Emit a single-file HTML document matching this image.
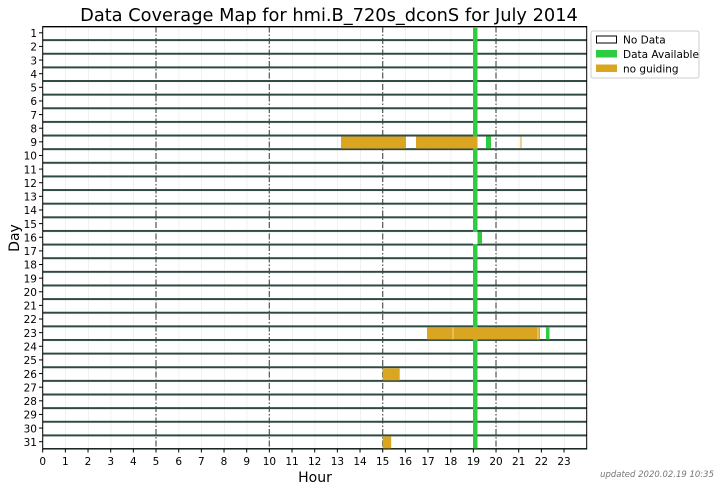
<!DOCTYPE html>
<html><head><meta charset="utf-8"><style>
body{margin:0;background:#fff;}
svg{display:block;font-family:"DejaVu Sans","Liberation Sans",sans-serif;}
</style></head><body>
<svg width="721" height="490" viewBox="0 0 721 490" xmlns="http://www.w3.org/2000/svg">
<defs>
<pattern id="vg" patternUnits="userSpaceOnUse" x="42.7" y="0" width="22.667" height="490">
<line x1="0" y1="0" x2="0" y2="490" stroke="#e2e2e2" stroke-width="1"/>
</pattern>
<pattern id="hg" patternUnits="userSpaceOnUse" x="0" y="25.5" width="721" height="13.63">
<rect x="0" y="0" width="721" height="2" fill="#2f4a44"/>
</pattern>
<pattern id="yt" patternUnits="userSpaceOnUse" x="0" y="32.3" width="10" height="13.63">
<rect x="0" y="0" width="10" height="1" fill="#000"/>
</pattern>
<pattern id="xt" patternUnits="userSpaceOnUse" x="42.2" y="0" width="22.667" height="10">
<rect x="0" y="0" width="1" height="10" fill="#000"/>
</pattern>
</defs>
<text x="329" y="21" font-size="17.8" text-anchor="middle" fill="#000">Data Coverage Map for hmi.B_720s_dconS for July 2014</text>
<rect x="42.7" y="26.5" width="544" height="422.5" fill="url(#vg)"/>
<g stroke="#555" stroke-width="1.2" stroke-dasharray="6,2,1.5,2">
<line x1="156" y1="26.5" x2="156" y2="449"/>
<line x1="269.3" y1="26.5" x2="269.3" y2="449"/>
<line x1="382.7" y1="26.5" x2="382.7" y2="449"/>
<line x1="496" y1="26.5" x2="496" y2="449"/>
</g>
<rect x="42.7" y="27" width="544" height="421.5" fill="url(#hg)"/>
<rect x="473" y="26.5" width="4.5" height="422.5" fill="#2ecc40"/>
<rect x="341" y="136.5" width="65" height="12" fill="#daa520"/>
<rect x="416" y="136.5" width="61.5" height="12" fill="#daa520"/>
<rect x="486" y="136.5" width="5" height="12" fill="#2ecc40"/>
<rect x="520.5" y="136.5" width="1" height="12" fill="#daa520"/>
<rect x="473" y="232" width="5" height="12" fill="#fff"/>
<rect x="477.5" y="232" width="4.5" height="12" fill="#2ecc40"/>
<rect x="473" y="327.4" width="5" height="12" fill="#fff"/>
<rect x="427" y="327.4" width="113" height="12" fill="#daa520"/>
<rect x="452.5" y="327.4" width="1" height="12" fill="#f3d98a"/>
<rect x="537.5" y="327.4" width="1" height="12" fill="#f3d98a"/>
<rect x="546" y="327.4" width="3.5" height="12" fill="#2ecc40"/>
<rect x="382.7" y="368.3" width="17" height="12" fill="#daa520"/>
<rect x="382.7" y="436.4" width="8.5" height="12" fill="#daa520"/>
<rect x="42.7" y="26.5" width="544" height="422.5" fill="none" stroke="#000" stroke-width="1"/>
<rect x="39" y="26.5" width="3.5" height="422.5" fill="url(#yt)"/>
<rect x="42" y="449" width="530" height="3.5" fill="url(#xt)"/>
<g font-size="10.5" text-anchor="end" fill="#000">
<text x="37" y="37">1</text><text x="37" y="50.6">2</text><text x="37" y="64.3">3</text><text x="37" y="77.9">4</text><text x="37" y="91.5">5</text><text x="37" y="105.2">6</text><text x="37" y="118.8">7</text><text x="37" y="132.4">8</text><text x="37" y="146">9</text><text x="37" y="159.7">10</text><text x="37" y="173.3">11</text><text x="37" y="186.9">12</text><text x="37" y="200.6">13</text><text x="37" y="214.2">14</text><text x="37" y="227.8">15</text><text x="37" y="241.5">16</text><text x="37" y="255.1">17</text><text x="37" y="268.7">18</text><text x="37" y="282.3">19</text><text x="37" y="296">20</text><text x="37" y="309.6">21</text><text x="37" y="323.2">22</text><text x="37" y="336.9">23</text><text x="37" y="350.5">24</text><text x="37" y="364.1">25</text><text x="37" y="377.8">26</text><text x="37" y="391.4">27</text><text x="37" y="405">28</text><text x="37" y="418.6">29</text><text x="37" y="432.3">30</text><text x="37" y="445.9">31</text>
</g>
<g font-size="10.5" text-anchor="middle" fill="#000">
<text x="42.7" y="465">0</text><text x="65.4" y="465">1</text><text x="88" y="465">2</text><text x="110.7" y="465">3</text><text x="133.4" y="465">4</text><text x="156" y="465">5</text><text x="178.7" y="465">6</text><text x="201.4" y="465">7</text><text x="224" y="465">8</text><text x="246.7" y="465">9</text><text x="269.4" y="465">10</text><text x="292" y="465">11</text><text x="314.7" y="465">12</text><text x="337.4" y="465">13</text><text x="360" y="465">14</text><text x="382.7" y="465">15</text><text x="405.4" y="465">16</text><text x="428" y="465">17</text><text x="450.7" y="465">18</text><text x="473.4" y="465">19</text><text x="496" y="465">20</text><text x="518.7" y="465">21</text><text x="541.4" y="465">22</text><text x="564" y="465">23</text>
</g>
<text x="315" y="482" font-size="14" text-anchor="middle">Hour</text>
<text transform="translate(19,238) rotate(-90)" font-size="14" text-anchor="middle">Day</text>
<text x="714" y="477" font-size="8.5" text-anchor="end" fill="#777" font-style="italic">updated 2020.02.19 10:35</text>
<rect x="591" y="31" width="108" height="47" fill="#fff" stroke="#ccc" stroke-width="1" rx="2"/>
<rect x="596.5" y="36" width="20" height="7" fill="#fff" stroke="#000" stroke-width="1"/>
<rect x="596" y="50" width="21" height="7.5" fill="#2ecc40"/>
<rect x="596" y="64.5" width="21" height="7.5" fill="#daa520"/>
<g font-size="10.5" fill="#000">
<text x="623" y="43.5">No Data</text>
<text x="623" y="58">Data Available</text>
<text x="623" y="72.5">no guiding</text>
</g>
</svg>
</body></html>
